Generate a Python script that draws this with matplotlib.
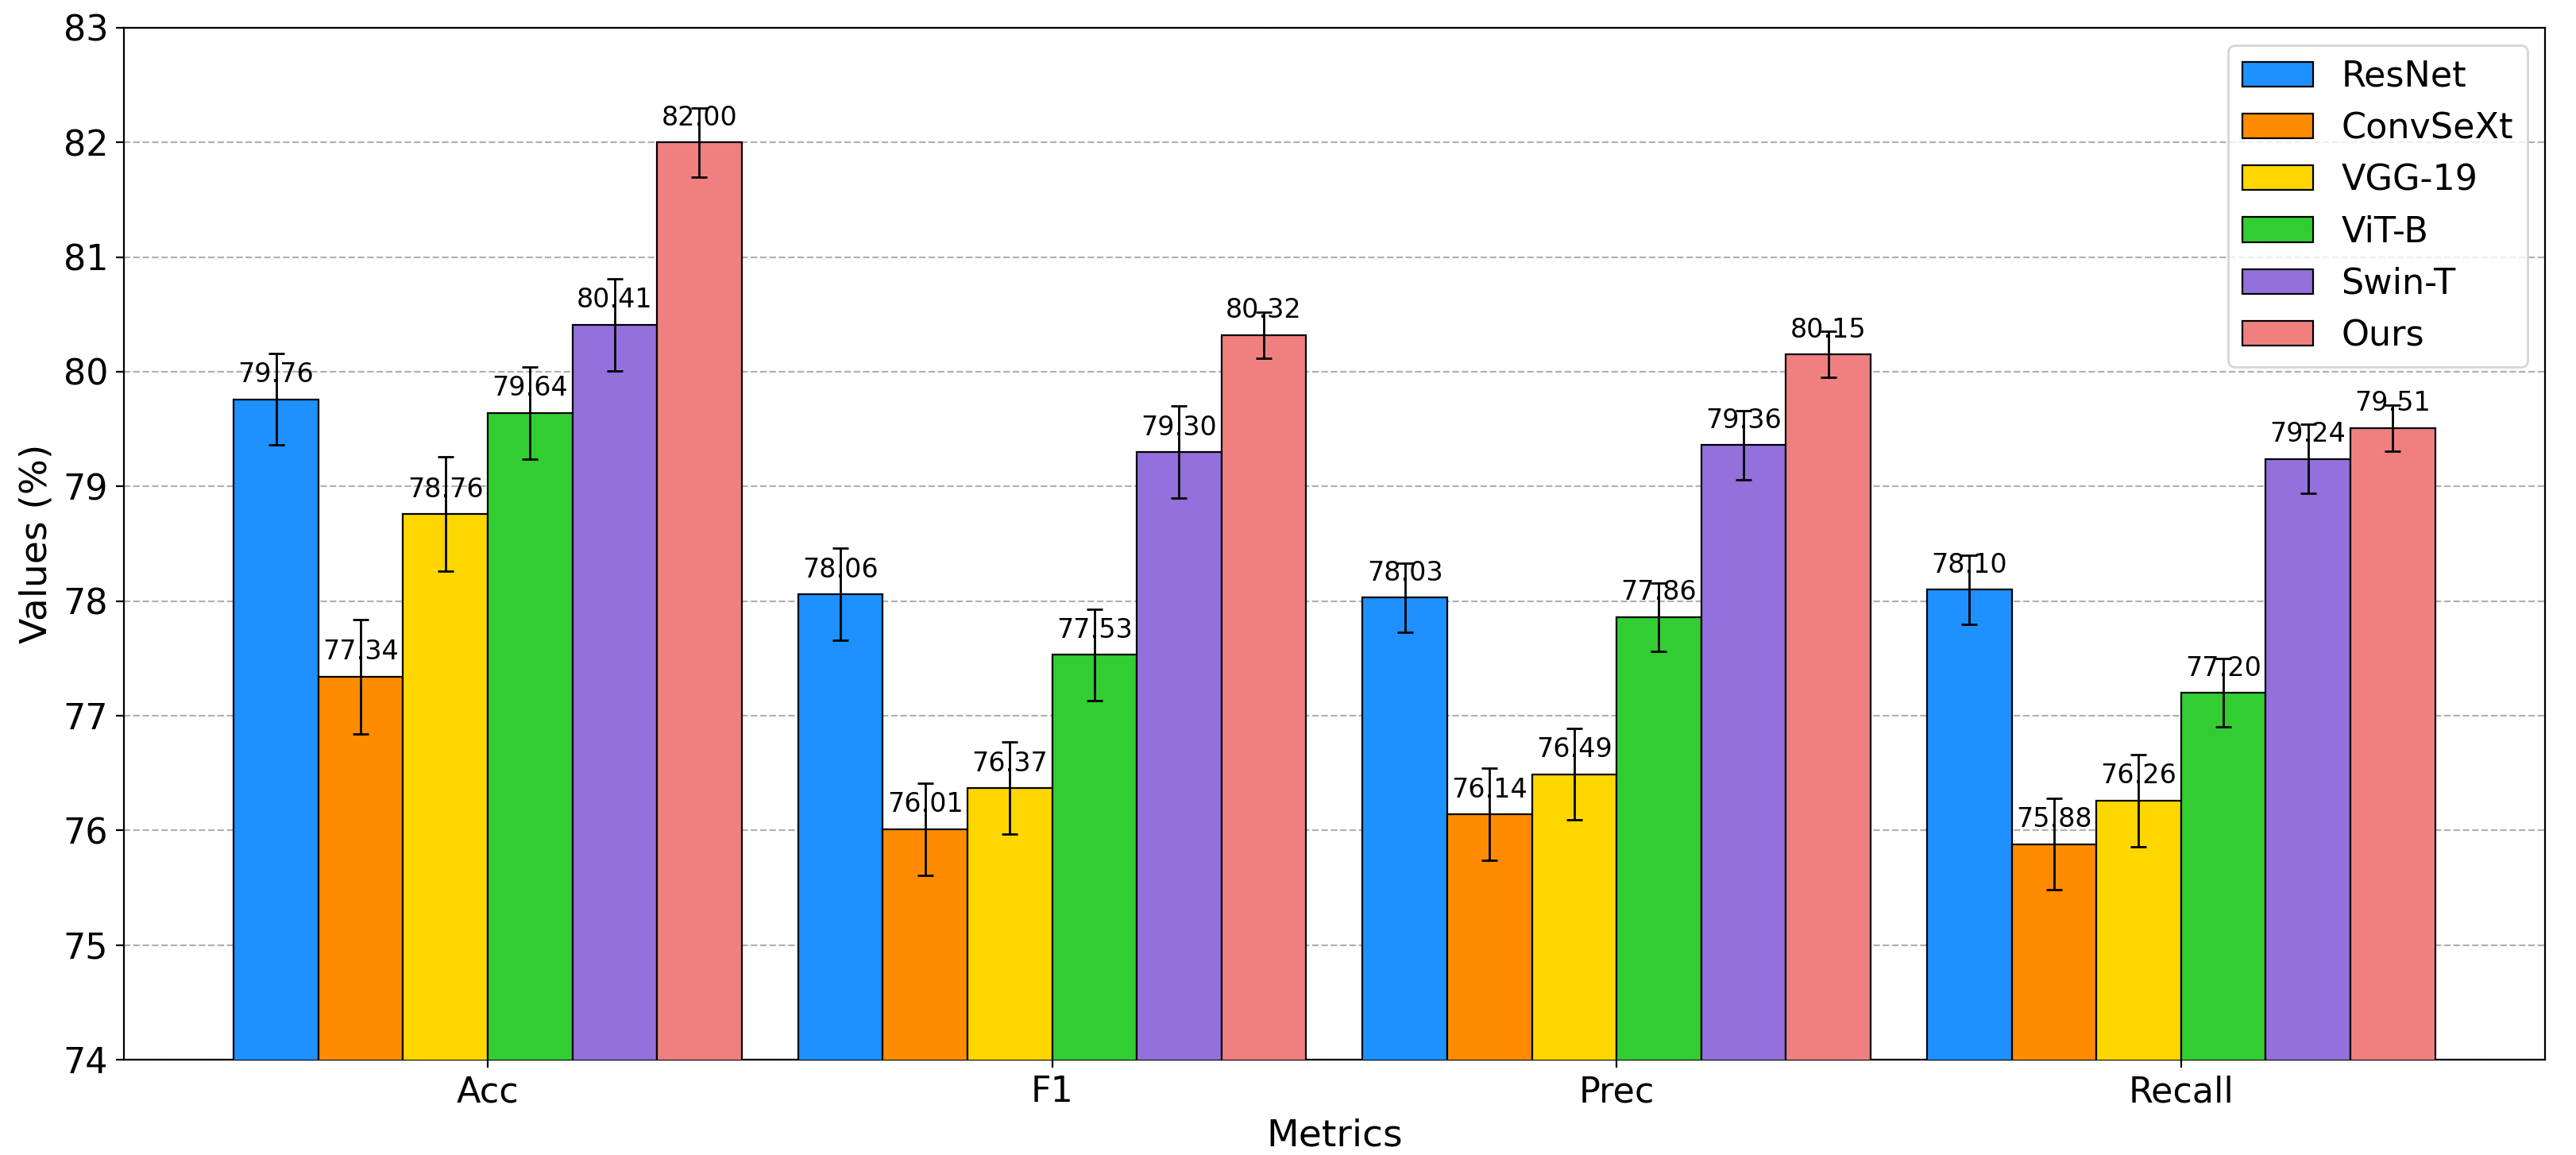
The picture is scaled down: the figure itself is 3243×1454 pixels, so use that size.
import numpy as np
import matplotlib
matplotlib.use("Agg")
import matplotlib.pyplot as plt

metrics = ["Acc", "F1", "Prec", "Recall"]
models = ["ResNet", "ConvSeXt", "VGG-19", "ViT-B", "Swin-T", "Ours"]
colors = ["#1E90FF", "#FF8C00", "#FFD700", "#32CD32", "#9370DB", "#F08080"]

resnet = [79.76, 78.06, 78.03, 78.10]
convsext = [77.34, 76.01, 76.14, 75.88]
vgg19 = [78.76, 76.37, 76.49, 76.26]
vitb = [79.64, 77.53, 77.86, 77.20]
swint = [80.41, 79.30, 79.36, 79.24]
ours = [82.00, 80.32, 80.15, 79.51]

resnet_err = [0.4, 0.4, 0.3, 0.3]
convsext_err = [0.5, 0.4, 0.4, 0.4]
vgg19_err = [0.5, 0.4, 0.4, 0.4]
vitb_err = [0.4, 0.4, 0.3, 0.3]
swint_err = [0.4, 0.4, 0.3, 0.3]
ours_err = [0.3, 0.2, 0.2, 0.2]

values = [resnet, convsext, vgg19, vitb, swint, ours]
errors = [resnet_err, convsext_err, vgg19_err, vitb_err, swint_err, ours_err]

fig = plt.figure(figsize=(3243 / 200, 1454 / 200), dpi=200)
ax = fig.add_axes([0.048, 0.0825, 0.940, 0.8935])

x = np.arange(len(metrics))
width = 0.15
for i, (name, vals, errs, c) in enumerate(zip(models, values, errors, colors)):
    pos = x + (i - 2.5) * width
    ax.bar(pos, vals, width, yerr=errs, capsize=3.5, color=c, edgecolor="black",
           linewidth=0.8, label=name, zorder=3,
           error_kw=dict(ecolor="black", elinewidth=1.0, capthick=1.0, zorder=5))
    for xp, v in zip(pos, vals):
        ax.text(xp, v + 0.1, f"{v:.2f}", ha="center", va="bottom", fontsize=12, zorder=4)

ax.set_ylim(74, 83)
ax.set_xticks(x)
ax.set_xticklabels(metrics, fontsize=16)
ax.tick_params(axis="y", labelsize=16)
ax.set_xlabel("Metrics", fontsize=17)
ax.set_ylabel("Values (%)", fontsize=17)
ax.yaxis.grid(True, linestyle="--", color="gray", alpha=0.6, linewidth=0.8, zorder=0)
ax.set_axisbelow(True)
ax.legend(loc="upper right", fontsize=16)

fig.savefig("out.png", dpi=200)
